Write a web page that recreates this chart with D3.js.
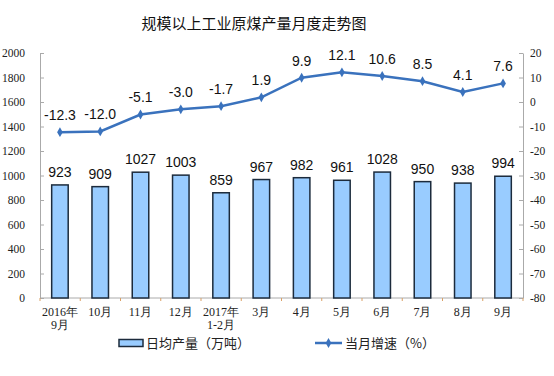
<!DOCTYPE html>
<html><head><meta charset="utf-8">
<script src="https://cdn.jsdelivr.net/npm/d3@7"></script>
<style>body{margin:0;background:#fff}svg{display:block}</style>
</head><body>
<svg id="c" width="554" height="376"></svg>
<script>
const categories = [["2016年","9月"],["10月"],["11月"],["12月"],["2017年","1-2月"],["3月"],["4月"],["5月"],["6月"],["7月"],["8月"],["9月"]];
const output = [923,909,1027,1003,859,967,982,961,1028,950,938,994];
const growth = [-12.3,-12.0,-5.1,-3.0,-1.7,1.9,9.9,12.1,10.6,8.5,4.1,7.6];
const leftTicks = [0,200,400,600,800,1000,1200,1400,1600,1800,2000];
const rightTicks = [20,10,0,-10,-20,-30,-40,-50,-60,-70,-80];
const title = "规模以上工业原煤产量月度走势图";
const legendBar = "日均产量（万吨）";
const legendLine = "当月增速（%）";

const svg = d3.select("#c");
const L = 40, R = 523, T = 53, B = 298;
const idx = d3.range(categories.length);
const x = d3.scaleBand().domain(idx).range([L, R]).paddingInner(0.59).paddingOuter(0.29);
const yL = d3.scaleLinear().domain([0, 2000]).range([B, T]);
const yR = d3.scaleLinear().domain([-80, 20]).range([B, T]);
const serif = "'Liberation Serif','DejaVu Serif',serif";
const sans = "'Liberation Sans',Arial,sans-serif";
const cjk = "'Noto Sans CJK SC',sans-serif";
const plain = d => String(d);

svg.append("text").attr("x", 254).attr("y", 29).attr("text-anchor","middle")
  .attr("font-family", cjk).attr("font-size", 15).attr("fill","#111").text(title);

// left axis
const gL = svg.append("g").attr("transform",`translate(${L},0)`)
  .call(d3.axisLeft(yL).tickValues(leftTicks).tickFormat(plain).tickSize(-4).tickPadding(15).tickSizeOuter(0));
gL.select(".domain").attr("stroke","#aaa");
gL.selectAll(".tick line").attr("stroke","#aaa");
gL.selectAll("text").attr("font-family", serif).attr("font-size", 11.5).attr("fill","#222");

// right axis
const gR = svg.append("g").attr("transform",`translate(${R},0)`)
  .call(d3.axisRight(yR).tickValues(rightTicks).tickFormat(plain).tickSize(-4).tickPadding(7).tickSizeOuter(0));
gR.select(".domain").attr("stroke","#aaa");
gR.selectAll(".tick line").attr("stroke","#aaa");
gR.selectAll("text").attr("font-family", serif).attr("font-size", 11.5).attr("fill","#222");

// x axis
svg.append("line").attr("x1",L).attr("x2",R).attr("y1",B).attr("y2",B).attr("stroke","#aaa");
svg.append("g").selectAll("line").data(d3.range(categories.length+1)).join("line")
  .attr("x1", i => L + i*(R-L)/categories.length).attr("x2", i => L + i*(R-L)/categories.length)
  .attr("y1", B).attr("y2", B+3).attr("stroke","#d9a066");
const xl = svg.append("g").selectAll("text").data(idx).join("text")
  .attr("x", i => x(i)+x.bandwidth()/2).attr("y", 316).attr("text-anchor","middle")
  .attr("font-family", serif).attr("font-size", 12).attr("fill","#222");
xl.each(function(i){
  const t = d3.select(this);
  categories[i].forEach((s,k)=> t.append("tspan").attr("x", x(i)+x.bandwidth()/2).attr("dy", k?13:0).text(s));
});

// bars
svg.append("g").selectAll("rect").data(idx).join("rect")
  .attr("x", i => x(i)).attr("width", x.bandwidth())
  .attr("y", i => yL(output[i])).attr("height", i => B - yL(output[i]))
  .attr("fill","#99ccff").attr("stroke","#1c2b3c").attr("stroke-width",1.5);
svg.append("g").selectAll("text").data(idx).join("text")
  .attr("x", i => x(i)+x.bandwidth()/2).attr("y", i => yL(output[i]) - 8)
  .attr("text-anchor","middle").attr("font-family", sans).attr("font-size", 14).attr("fill","#111")
  .text(i => output[i]);

// line
const line = d3.line().x(i => x(i)+x.bandwidth()/2).y(i => yR(growth[i]));
svg.append("path").datum(idx).attr("d", line).attr("fill","none").attr("stroke","#3a72bd").attr("stroke-width",2.5);
const diamond = d3.symbol().type(d3.symbolDiamond).size(28);
svg.append("g").selectAll("path").data(idx).join("path")
  .attr("transform", i => `translate(${x(i)+x.bandwidth()/2},${yR(growth[i])})`)
  .attr("d", diamond).attr("fill","#3a72bd");
svg.append("g").selectAll("text").data(idx).join("text")
  .attr("x", i => x(i)+x.bandwidth()/2).attr("y", i => yR(growth[i]) - 12)
  .attr("text-anchor","middle").attr("font-family", sans).attr("font-size", 14).attr("fill","#111")
  .text(i => growth[i].toFixed(1));

// legend
const ly = 343;
svg.append("rect").attr("x",119).attr("y",ly-3.5).attr("width",24).attr("height",7)
  .attr("fill","#99ccff").attr("stroke","#1c2b3c").attr("stroke-width",1.5);
svg.append("text").attr("x",146).attr("y",ly+4.5).attr("font-family",cjk).attr("font-size",13).attr("fill","#222").text(legendBar);
svg.append("line").attr("x1",315).attr("x2",342).attr("y1",ly).attr("y2",ly).attr("stroke","#3a72bd").attr("stroke-width",2.5);
svg.append("path").attr("transform",`translate(328.5,${ly})`).attr("d",diamond).attr("fill","#3a72bd");
svg.append("text").attr("x",345).attr("y",ly+4.5).attr("font-family",cjk).attr("font-size",13).attr("fill","#222").text(legendLine);
</script>
</body></html>
